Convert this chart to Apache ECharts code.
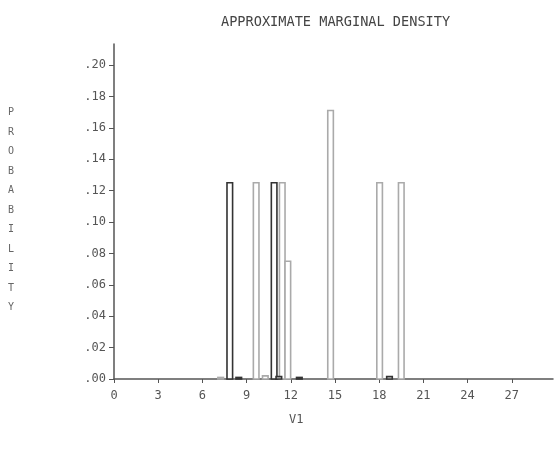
<!DOCTYPE html>
<html>
<head>
<meta charset="utf-8">
<script src="https://cdn.jsdelivr.net/npm/echarts@6/dist/echarts.min.js"></script>
<style>html,body{margin:0;padding:0;background:#fff}#c{width:560px;height:457px}</style>
</head>
<body>
<div id="c"></div>
<script>
// Bin centres (V1) and probabilities
const darkX = [7.86, 8.47, 10.87, 11.19, 12.58, 18.7];
const darkY = [0.125, 0.001, 0.125, 0.0015, 0.001, 0.0015];
const grayX = [7.24, 9.65, 10.27, 11.42, 11.80, 14.70, 18.03, 19.50];
const grayY = [0.001, 0.125, 0.002, 0.125, 0.075, 0.171, 0.125, 0.125];
const binWidth = 0.38;
const xTicks = [0, 3, 6, 9, 12, 15, 18, 21, 24, 27];
const yTicks = [0, 0.02, 0.04, 0.06, 0.08, 0.10, 0.12, 0.14, 0.16, 0.18, 0.20];
const titleText = 'APPROXIMATE MARGINAL DENSITY';
const xName = 'V1';
const yName = 'PROBABILITY';

const font = 'DejaVu Sans Mono';
const chart = echarts.init(document.getElementById('c'));

function makeRender(color) {
  return function (params, api) {
    const x = api.value(0), h = api.value(1);
    const p0 = api.coord([x - binWidth / 2, 0]);
    const p1 = api.coord([x + binWidth / 2, h]);
    return {
      type: 'rect',
      shape: { x: p0[0], y: p1[1], width: p1[0] - p0[0], height: p0[1] - p1[1] },
      style: { fill: '#fff', stroke: color, lineWidth: 1.6 }
    };
  };
}

chart.setOption({
  animation: false,
  backgroundColor: '#fff',
  title: {
    text: titleText, left: 216, top: 10,
    textStyle: { fontFamily: font, fontSize: 13.6, fontWeight: 'normal', color: '#444' }
  },
  grid: { left: 114, right: 7, top: 44, bottom: 78 },
  xAxis: {
    type: 'value', min: 0, max: 29.8,
    axisLine: { lineStyle: { color: '#555', width: 1.5 } },
    axisTick: { customValues: xTicks, length: 4, lineStyle: { color: '#555' } },
    axisLabel: { customValues: xTicks, margin: 11, fontFamily: font, fontSize: 12, color: '#555' },
    splitLine: { show: false }
  },
  yAxis: {
    type: 'value', min: 0, max: 0.2134,
    axisLine: { show: true, lineStyle: { color: '#555', width: 1.5 } },
    axisTick: { show: true, customValues: yTicks, length: 5, lineStyle: { color: '#555' } },
    axisLabel: {
      customValues: yTicks, margin: 8, fontFamily: font, fontSize: 12, color: '#555',
      formatter: v => v.toFixed(2).replace(/^0/, '')
    },
    splitLine: { show: false }
  },
  graphic: [
    { type: 'text', left: 289, top: 414,
      style: { text: xName, fontFamily: font, fontSize: 12, fill: '#555' } },
    { type: 'text', left: 8, top: 103,
      style: { text: yName.split('').join('\n'), fontFamily: font, fontSize: 10,
               lineHeight: 19.5, fill: '#666', align: 'center' } }
  ],
  series: [
    { type: 'custom', renderItem: makeRender('#aaa'),
      data: grayX.map((x, i) => [x, grayY[i]]), encode: { x: 0, y: 1 } },
    { type: 'custom', renderItem: makeRender('#333'),
      data: darkX.map((x, i) => [x, darkY[i]]), encode: { x: 0, y: 1 } }
  ]
});
</script>
</body>
</html>
